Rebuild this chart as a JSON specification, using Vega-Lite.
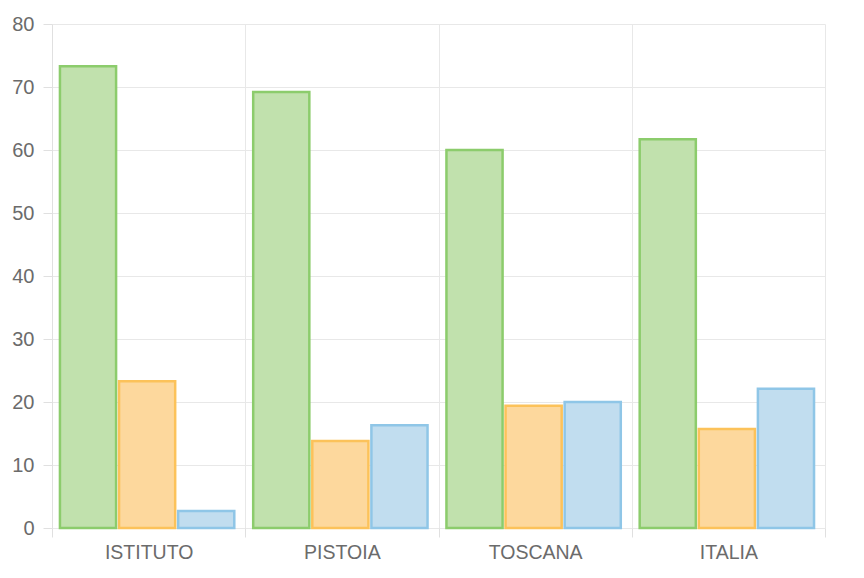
{
  "$schema": "https://vega.github.io/schema/vega-lite/v6.json",
  "autosize": "none",
  "width": 809,
  "height": 504,
  "padding": {"left": 52, "top": 24, "right": 3, "bottom": 50},
  "background": "white",
  "data": {
    "values": [
      {"area": "ISTITUTO", "serie": "S1", "valore": 73.3},
      {"area": "ISTITUTO", "serie": "S2", "valore": 23.3},
      {"area": "ISTITUTO", "serie": "S3", "valore": 2.7},
      {"area": "PISTOIA", "serie": "S1", "valore": 69.2},
      {"area": "PISTOIA", "serie": "S2", "valore": 13.8},
      {"area": "PISTOIA", "serie": "S3", "valore": 16.3},
      {"area": "TOSCANA", "serie": "S1", "valore": 60.0},
      {"area": "TOSCANA", "serie": "S2", "valore": 19.4},
      {"area": "TOSCANA", "serie": "S3", "valore": 20.0},
      {"area": "ITALIA", "serie": "S1", "valore": 61.7},
      {"area": "ITALIA", "serie": "S2", "valore": 15.7},
      {"area": "ITALIA", "serie": "S3", "valore": 22.1}
    ]
  },
  "config": {
    "view": {"stroke": null},
    "font": "Liberation Sans",
    "axis": {
      "labelFont": "Liberation Sans",
      "labelColor": "#6b6b6b",
      "gridColor": "#e8e8e8",
      "tickColor": "#e0e0e0",
      "domainColor": "#e0e0e0",
      "title": null
    }
  },
  "mark": {"type": "bar", "strokeWidth": 2.5, "fillOpacity": 1},
  "encoding": {
    "x": {
      "field": "area",
      "type": "nominal",
      "sort": ["ISTITUTO", "PISTOIA", "TOSCANA", "ITALIA"],
      "scale": {"range": [0, 773], "paddingInner": 0, "paddingOuter": 0},
      "axis": {
        "labelAngle": 0,
        "labelFontSize": 19.5,
        "labelPadding": 6,
        "tickSize": 9,
        "tickBand": "extent",
        "grid": true,
        "domain": false
      }
    },
    "xOffset": {
      "field": "serie",
      "type": "nominal",
      "scale": {"paddingInner": 0.05, "paddingOuter": 0.16, "align": 0.42}
    },
    "y": {
      "field": "valore",
      "type": "quantitative",
      "scale": {"domain": [0, 80], "nice": false},
      "axis": {
        "values": [0, 10, 20, 30, 40, 50, 60, 70, 80],
        "labelFontSize": 20,
        "labelPadding": 9,
        "tickSize": 9,
        "grid": true,
        "domain": true
      }
    },
    "color": {
      "field": "serie",
      "type": "nominal",
      "scale": {"domain": ["S1", "S2", "S3"], "range": ["#c1e1ad", "#fdd89d", "#c1ddef"]},
      "legend": null
    },
    "stroke": {
      "field": "serie",
      "type": "nominal",
      "scale": {"domain": ["S1", "S2", "S3"], "range": ["#8ccc6c", "#fcc25a", "#8fc6e7"]},
      "legend": null
    }
  }
}
